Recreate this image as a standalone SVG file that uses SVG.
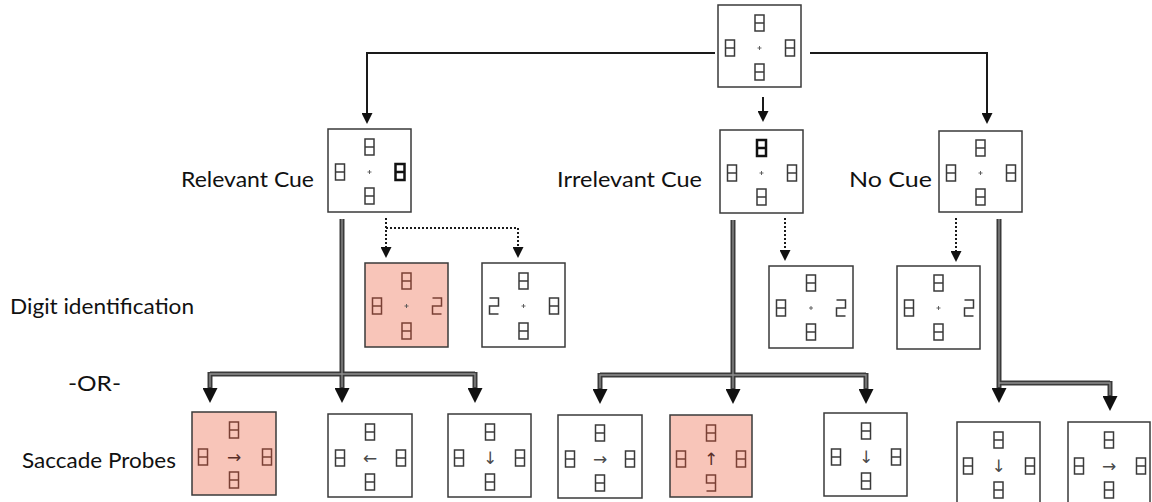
<svg xmlns="http://www.w3.org/2000/svg" width="1152" height="502" viewBox="0 0 1152 502">
<style>
.bg{fill:#ffffff}
.box{fill:#ffffff;stroke:#3a3a3a;stroke-width:1.5}
.pink .box{fill:#f8c5b9}
.dg{fill:none;stroke:#3a3a3a;stroke-width:1.5}
.pink .dg{stroke:#7a4035}
.dg.b{stroke:#111;stroke-width:2.5}
.fx{fill:none;stroke:#555;stroke-width:0.9}
.arr{font-family:"DejaVu Sans",sans-serif;font-size:17px;fill:#4a4a4a;text-anchor:middle}
.pink .arr{fill:#5a2f28}
.lbl{font-family:Lato,"Liberation Sans",sans-serif;font-size:21px;fill:#111}
.solid{fill:none;stroke:#1a1a1a;stroke-width:2}
.dot{fill:none;stroke:#1a1a1a;stroke-width:2;stroke-dasharray:2 2}
.dbo{fill:none;stroke:#3a3a3a;stroke-width:5}
.dbi{fill:none;stroke:#909090;stroke-width:1.3}
</style>
<defs>
<g id="d8"><rect x="-4.5" y="-8" width="9" height="16"/><line x1="-4.5" y1="0" x2="4.5" y2="0"/></g>
<path id="d2" d="M-4.5,-8 H4.5 V0 H-4.5 V8 H4.5"/>
<path id="d9" d="M4.5,0 H-4.5 V-8 H4.5 V8 H-4.5"/>
<path id="fx" d="M-2,0 H2 M0,-2 V2"/>
<marker id="ahs" viewBox="0 0 10 10" refX="0" refY="5" markerUnits="userSpaceOnUse" markerWidth="11" markerHeight="11" orient="auto"><path d="M0,0 L10,5 L0,10 z" fill="#111"/></marker>
<marker id="ahb" viewBox="0 0 10 10" refX="0" refY="5" markerUnits="userSpaceOnUse" markerWidth="15" markerHeight="15" orient="auto"><path d="M0,0 L10,5 L0,10 z" fill="#111"/></marker>
</defs>
<rect class="bg" width="1152" height="502"/>

<g id="connectors">
<path class="solid" d="M715,53 H367 V113" marker-end="url(#ahs)"/>
<path class="solid" d="M763,97 V111" marker-end="url(#ahs)"/>
<path class="solid" d="M810,53 H987 V113" marker-end="url(#ahs)"/>
<path class="dot" d="M386,218 V247" marker-end="url(#ahs)"/>
<path class="dot" d="M386,228 H518 V247" marker-end="url(#ahs)"/>
<path class="dot" d="M785,218 V250" marker-end="url(#ahs)"/>
<path class="dot" d="M956,218 V251" marker-end="url(#ahs)"/>
<path class="dbo" d="M210,374 H475"/>
<path class="dbo" d="M600,375 H866"/>
<path class="dbo" d="M999,383 H1110"/>
<path class="dbo" d="M342,219 V388" marker-end="url(#ahb)"/>
<path class="dbo" d="M210,372 V388" marker-end="url(#ahb)"/>
<path class="dbo" d="M475,372 V388" marker-end="url(#ahb)"/>
<path class="dbo" d="M733,220 V389" marker-end="url(#ahb)"/>
<path class="dbo" d="M600,373 V389" marker-end="url(#ahb)"/>
<path class="dbo" d="M866,373 V389" marker-end="url(#ahb)"/>
<path class="dbo" d="M999,219 V388" marker-end="url(#ahb)"/>
<path class="dbo" d="M1110,381 V396" marker-end="url(#ahb)"/>
<path class="dbi" d="M342,219 V387"/>
<path class="dbi" d="M210,387 V374 H475 V387"/>
<path class="dbi" d="M733,220 V388"/>
<path class="dbi" d="M600,388 V375 H866 V388"/>
<path class="dbi" d="M999,219 V387"/>
<path class="dbi" d="M999,383 H1110 V395"/>
</g>

<g id="labels">
<text class="lbl" x="181" y="187" textLength="133" lengthAdjust="spacingAndGlyphs">Relevant Cue</text>
<text class="lbl" x="557" y="187" textLength="145" lengthAdjust="spacingAndGlyphs">Irrelevant Cue</text>
<text class="lbl" x="849" y="187" textLength="83" lengthAdjust="spacingAndGlyphs">No Cue</text>
<text class="lbl" x="10" y="314" textLength="184" lengthAdjust="spacingAndGlyphs">Digit identification</text>
<text class="lbl" x="68" y="391" textLength="53" lengthAdjust="spacingAndGlyphs">-OR-</text>
<text class="lbl" x="22" y="468" textLength="154" lengthAdjust="spacingAndGlyphs">Saccade Probes</text>
</g>

<g id="n-top" transform="translate(718,5)">
<rect class="box" width="83" height="82"/>
<use href="#d8" class="dg" x="41.5" y="18"/><use href="#d8" class="dg" x="12" y="43"/><use href="#d8" class="dg" x="72" y="43"/><use href="#d8" class="dg" x="41.5" y="67"/>
<use href="#fx" class="fx" x="41.5" y="43"/>
</g>
<g id="n-relevant" transform="translate(328,129)">
<rect class="box" width="83" height="83"/>
<use href="#d8" class="dg" x="41.5" y="18"/><use href="#d8" class="dg" x="12" y="43"/><use href="#d8" class="dg b" x="72" y="43"/><use href="#d8" class="dg" x="41.5" y="67"/>
<use href="#fx" class="fx" x="41.5" y="43"/>
</g>
<g id="n-irrelevant" transform="translate(720,130)">
<rect class="box" width="83" height="83"/>
<use href="#d8" class="dg b" x="41.5" y="18"/><use href="#d8" class="dg" x="12" y="43"/><use href="#d8" class="dg" x="72" y="43"/><use href="#d8" class="dg" x="41.5" y="67"/>
<use href="#fx" class="fx" x="41.5" y="43"/>
</g>
<g id="n-nocue" transform="translate(939,131)">
<rect class="box" width="83" height="81"/>
<use href="#d8" class="dg" x="41.5" y="17"/><use href="#d8" class="dg" x="12" y="42"/><use href="#d8" class="dg" x="72" y="42"/><use href="#d8" class="dg" x="41.5" y="66"/>
<use href="#fx" class="fx" x="41.5" y="42"/>
</g>

<g id="n-di1" class="pink" transform="translate(365,263)">
<rect class="box" width="83" height="84"/>
<use href="#d8" class="dg" x="41.5" y="18"/><use href="#d8" class="dg" x="12" y="43"/><use href="#d2" class="dg" x="72" y="43"/><use href="#d8" class="dg" x="41.5" y="68"/>
<use href="#fx" class="fx" x="41.5" y="43"/>
</g>
<g id="n-di2" transform="translate(482,263)">
<rect class="box" width="83" height="84"/>
<use href="#d8" class="dg" x="41.5" y="18"/><use href="#d2" class="dg" x="12" y="43"/><use href="#d8" class="dg" x="72" y="43"/><use href="#d8" class="dg" x="41.5" y="68"/>
<use href="#fx" class="fx" x="41.5" y="43"/>
</g>
<g id="n-di3" transform="translate(769,266)">
<rect class="box" width="84" height="82"/>
<use href="#d8" class="dg" x="42" y="17"/><use href="#d8" class="dg" x="12" y="42"/><use href="#d2" class="dg" x="72" y="42"/><use href="#d8" class="dg" x="42" y="66"/>
<use href="#fx" class="fx" x="42" y="42"/>
</g>
<g id="n-di4" transform="translate(897,266)">
<rect class="box" width="83" height="83"/>
<use href="#d8" class="dg" x="41.5" y="17"/><use href="#d8" class="dg" x="12" y="42"/><use href="#d2" class="dg" x="72" y="42"/><use href="#d8" class="dg" x="41.5" y="66"/>
<use href="#fx" class="fx" x="41.5" y="42"/>
</g>

<g id="n-p1" class="pink" transform="translate(192,412)">
<rect class="box" width="84" height="83"/>
<use href="#d8" class="dg" x="42" y="18"/><use href="#d8" class="dg" x="11" y="45"/><use href="#d8" class="dg" x="75" y="45"/><use href="#d8" class="dg" x="42" y="68"/>
<text class="arr" x="42" y="51">→&#xFE0E;</text>
</g>
<g id="n-p2" transform="translate(328,414)">
<rect class="box" width="84" height="83"/>
<use href="#d8" class="dg" x="42" y="18"/><use href="#d8" class="dg" x="12" y="44"/><use href="#d8" class="dg" x="73" y="44"/><use href="#d8" class="dg" x="42" y="68"/>
<text class="arr" x="42" y="50">←&#xFE0E;</text>
</g>
<g id="n-p3" transform="translate(448,414)">
<rect class="box" width="83" height="83"/>
<use href="#d8" class="dg" x="42" y="18"/><use href="#d8" class="dg" x="11" y="44"/><use href="#d8" class="dg" x="72" y="44"/><use href="#d8" class="dg" x="42" y="68"/>
<text class="arr" x="42" y="50">↓&#xFE0E;</text>
</g>
<g id="n-p4" transform="translate(558,415)">
<rect class="box" width="84" height="83"/>
<use href="#d8" class="dg" x="42" y="18"/><use href="#d8" class="dg" x="12" y="44"/><use href="#d8" class="dg" x="72" y="44"/><use href="#d8" class="dg" x="42" y="68"/>
<text class="arr" x="42" y="50">→&#xFE0E;</text>
</g>
<g id="n-p5" class="pink" transform="translate(670,415)">
<rect class="box" width="82" height="82"/>
<use href="#d8" class="dg" x="41" y="18"/><use href="#d8" class="dg" x="11" y="44"/><use href="#d8" class="dg" x="71" y="44"/><use href="#d9" class="dg" x="41" y="68"/>
<text class="arr" x="41" y="50">↑&#xFE0E;</text>
</g>
<g id="n-p6" transform="translate(824,413)">
<rect class="box" width="83" height="83"/>
<use href="#d8" class="dg" x="42" y="18"/><use href="#d8" class="dg" x="12" y="44"/><use href="#d8" class="dg" x="72" y="44"/><use href="#d8" class="dg" x="42" y="68"/>
<text class="arr" x="42" y="50">↓&#xFE0E;</text>
</g>
<g id="n-p7" transform="translate(957,422)">
<rect class="box" width="83" height="83"/>
<use href="#d8" class="dg" x="41.5" y="18"/><use href="#d8" class="dg" x="11" y="44"/><use href="#d8" class="dg" x="73" y="44"/><use href="#d8" class="dg" x="41.5" y="68"/>
<text class="arr" x="41.5" y="50">↓&#xFE0E;</text>
</g>
<g id="n-p8" transform="translate(1068,422)">
<rect class="box" width="82" height="83"/>
<use href="#d8" class="dg" x="41" y="18"/><use href="#d8" class="dg" x="11" y="44"/><use href="#d8" class="dg" x="73" y="44"/><use href="#d8" class="dg" x="41" y="68"/>
<text class="arr" x="41" y="50">→&#xFE0E;</text>
</g>
</svg>
